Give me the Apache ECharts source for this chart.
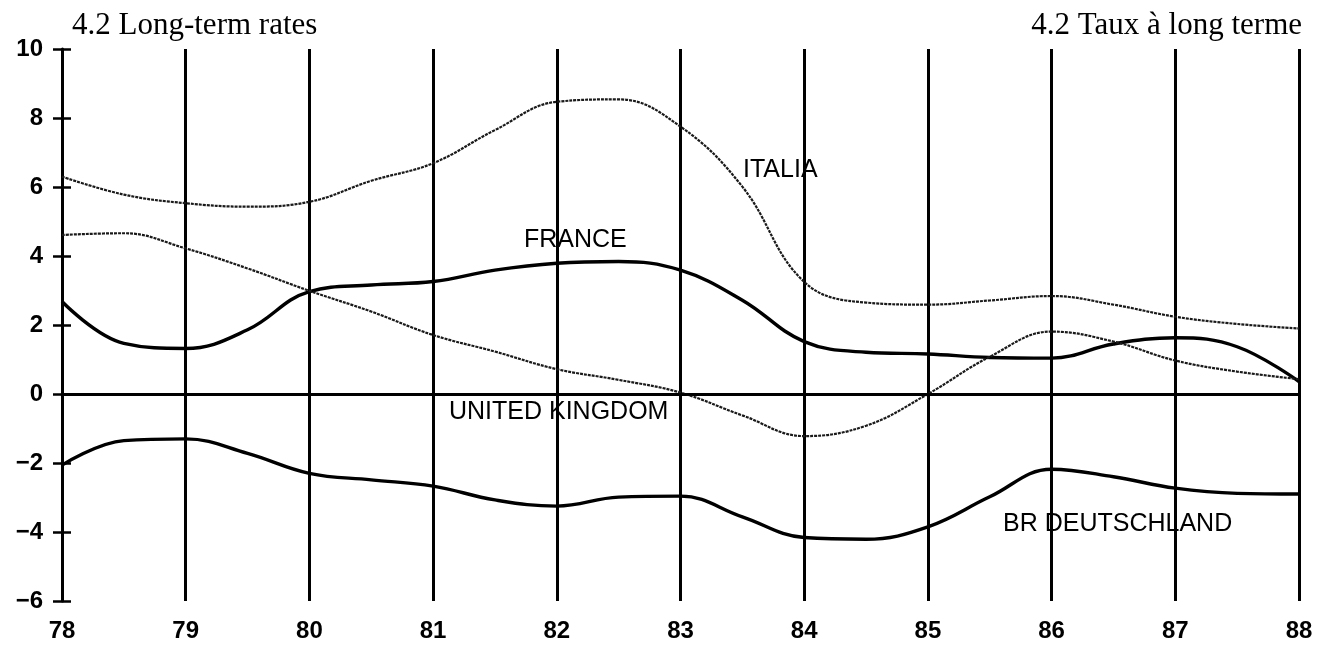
<!DOCTYPE html>
<html>
<head>
<meta charset="utf-8">
<script src="https://cdn.jsdelivr.net/npm/echarts@6/dist/echarts.min.js"></script>
<style>
html,body{margin:0;padding:0;background:#fff;}
#chart{width:1329px;height:646px;}
</style>
</head>
<body>
<div id="chart"></div>
<script>
// Years (half-year sampling positions on the x axis)
const years = [78,78.5,79,79.5,80,80.5,81,81.5,82,82.5,83,83.5,84,84.5,85,85.5,86,86.5,87,87.5,88];
const italia  = [6.30,5.78,5.53,5.43,5.57,6.18,6.69,7.65,8.47,8.54,7.75,6.01,3.25,2.65,2.59,2.71,2.84,2.59,2.24,2.03,1.90];
const france  = [2.68,1.47,1.32,1.86,2.97,3.16,3.26,3.59,3.79,3.84,3.59,2.72,1.52,1.21,1.16,1.06,1.04,1.45,1.63,1.37,0.36];
const uk      = [4.61,4.66,4.22,3.64,2.99,2.39,1.71,1.23,0.72,0.41,0.04,-0.62,-1.22,-0.92,0.0,1.08,1.81,1.52,0.97,0.65,0.43];
const germany = [-2.06,-1.35,-1.30,-1.72,-2.30,-2.49,-2.67,-3.07,-3.25,-2.99,-2.96,-3.56,-4.16,-4.21,-3.85,-2.98,-2.18,-2.40,-2.73,-2.88,-2.90];
const yTicks = [-6,-4,-2,0,2,4,6,8,10];
const xTickLabels = ['78','79','80','81','82','83','84','85','86','87','88'];
const seriesNames = ['ITALIA','FRANCE','UNITED KINGDOM','BR DEUTSCHLAND'];
const titleLeft = '4.2 Long-term rates';
const titleRight = '4.2 Taux à long terme';

const pair = arr => years.map((y, i) => [y, arr[i]]);

const chart = echarts.init(document.getElementById('chart'), null, {renderer: 'canvas'});

const labelFont = '25px "Liberation Sans", Arial, sans-serif';
const thinStyle = {color: '#1a1a1a', width: 2.2, type: [3, 1]};
const thickStyle = {color: '#000', width: 3.4};
const common = {type: 'line', smooth: 0.4, symbol: 'none', z: 3};

const option = {
  animation: false,
  backgroundColor: '#fff',
  grid: {left: 62, right: 30, top: 49, bottom: 45, containLabel: false},
  xAxis: {
    type: 'value', min: 78, max: 88, interval: 1,
    axisLine: {show: true, lineStyle: {color: '#000', width: 3}},
    axisTick: {show: true, length: 6, lineStyle: {color: '#000', width: 3}},
    axisLabel: {
      margin: 18, color: '#000',
      fontFamily: '"Liberation Sans", Arial, sans-serif', fontSize: 24, fontWeight: 'bold',
      formatter: v => xTickLabels[Math.round(v - 78)]
    },
    splitLine: {show: true, showMinLine: true, showMaxLine: true, lineStyle: {color: '#000', width: 3}}
  },
  yAxis: [
    {
      type: 'value', min: -6, max: 10, interval: 2,
      axisLine: {show: true, lineStyle: {color: '#000', width: 3}},
      axisTick: {show: true, length: 9, lineStyle: {color: '#000', width: 2.5}},
      axisLabel: {
        margin: 19, color: '#000',
        fontFamily: '"Liberation Sans", Arial, sans-serif', fontSize: 24, fontWeight: 'bold',
        formatter: v => (yTicks.indexOf(v) >= 0 ? String(v).replace('-', '\u2212') : '')
      },
      splitLine: {show: false}
    },
    {
      type: 'value', min: -6, max: 10, interval: 2, position: 'left',
      axisLine: {show: false},
      axisTick: {show: true, inside: true, length: 9, lineStyle: {color: '#000', width: 2.5}},
      axisLabel: {show: false},
      splitLine: {show: false}
    }
  ],
  series: [
    Object.assign({}, common, {
      name: seriesNames[0], data: pair(italia), lineStyle: thinStyle,
      markLine: {
        silent: true, symbol: 'none', label: {show: false},
        lineStyle: {color: '#000', width: 2.5, type: 'solid'},
        data: [{yAxis: 0}]
      }
    }),
    Object.assign({}, common, {name: seriesNames[1], data: pair(france), lineStyle: thickStyle}),
    Object.assign({}, common, {name: seriesNames[2], data: pair(uk), lineStyle: thinStyle}),
    Object.assign({}, common, {name: seriesNames[3], data: pair(germany), lineStyle: thickStyle})
  ],
  graphic: [
    {type: 'text', left: 72, top: 10, style: {text: titleLeft, font: '31px "Liberation Serif", "Times New Roman", serif', fill: '#000'}},
    {type: 'text', right: 27, top: 10, style: {text: titleRight, font: '31px "Liberation Serif", "Times New Roman", serif', fill: '#000'}},
    {type: 'text', left: 743, top: 158, z: 10, style: {text: seriesNames[0], font: labelFont, fill: '#000'}},
    {type: 'text', left: 524, top: 228, z: 10, style: {text: seriesNames[1], font: labelFont, fill: '#000'}},
    {type: 'text', left: 449, top: 400, z: 10, style: {text: seriesNames[2], font: labelFont, fill: '#000'}},
    {type: 'text', left: 1003, top: 512, z: 10, style: {text: seriesNames[3], font: labelFont, fill: '#000'}}
  ]
};
chart.setOption(option);
</script>
</body>
</html>
